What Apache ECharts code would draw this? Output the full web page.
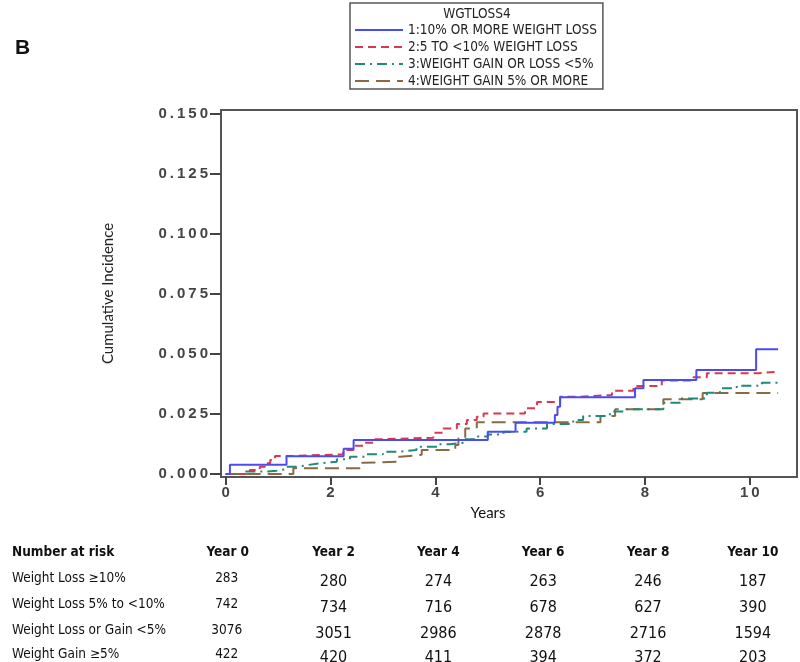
<!DOCTYPE html>
<html><head><meta charset="utf-8">
<script src="https://cdn.jsdelivr.net/npm/echarts@6/dist/echarts.min.js"></script>
<style>html,body{margin:0;padding:0;background:#fff}#c{width:800px;height:662px}</style>
</head><body><div id="c"></div>
<script>
// ---- data ----
const legendTitle = 'WGTLOSS4';
const seriesNames = ['1:10% OR MORE WEIGHT LOSS', '2:5 TO <10% WEIGHT LOSS', '3:WEIGHT GAIN OR LOSS <5%', '4:WEIGHT GAIN 5% OR MORE'];
const loss10 = [[0,0],[0.08,0.0039],[1.16,0.0074],[2.25,0.0105],[2.44,0.0142],[5.0,0.0176],[5.53,0.0214],[6.28,0.0246],[6.33,0.028],[6.38,0.032],[7.81,0.0357],[7.97,0.0392],[8.98,0.0433],[10.12,0.052],[10.54,0.052]];
const loss5to10 = [[0,0],[0.46,0.0017],[0.65,0.003],[0.75,0.0045],[0.85,0.0058],[0.94,0.0075],[1.23,0.0082],[2.24,0.010],[2.44,0.0118],[2.63,0.013],[2.82,0.0145],[2.94,0.0151],[3.96,0.0172],[4.15,0.019],[4.41,0.0208],[4.6,0.0225],[4.79,0.0239],[4.92,0.0252],[5.71,0.0274],[5.94,0.030],[6.38,0.0322],[6.76,0.0329],[7.37,0.0347],[7.78,0.0367],[8.32,0.039],[8.92,0.0403],[9.18,0.042],[10.16,0.0426],[10.54,0.0426]];
const stable5 = [[0,0],[0.34,0.001],[0.75,0.0014],[0.97,0.002],[1.16,0.003],[1.35,0.0037],[1.55,0.0045],[1.8,0.0051],[2.12,0.0061],[2.37,0.0072],[2.69,0.0082],[3.0,0.0093],[3.33,0.010],[3.64,0.0114],[4.03,0.0124],[4.28,0.013],[4.53,0.0145],[4.79,0.0156],[5.0,0.0165],[5.3,0.0176],[5.74,0.019],[6.13,0.0208],[6.63,0.0225],[6.82,0.0242],[7.33,0.026],[7.65,0.027],[8.35,0.0297],[8.67,0.0315],[9.18,0.0339],[9.43,0.0357],[9.75,0.0368],[10.23,0.038],[10.54,0.038]];
const gain5 = [[0,0],[1.29,0.0024],[2.56,0.0047],[2.63,0.0051],[3.26,0.0072],[3.33,0.008],[3.74,0.010],[4.38,0.0121],[4.44,0.0149],[4.57,0.019],[4.79,0.0216],[7.15,0.0242],[7.43,0.027],[8.35,0.0312],[9.1,0.0338],[10.54,0.0338]];
const yTicks = [0, 0.025, 0.05, 0.075, 0.1, 0.125, 0.15];
const xTicks = [0, 2, 4, 6, 8, 10];
const riskHeader = 'Number at risk';
const riskYears = [0, 2, 4, 6, 8, 10];
const riskYearLabels = ['Year 0', 'Year 2', 'Year 4', 'Year 6', 'Year 8', 'Year 10'];
const riskGroups = ['Weight Loss \u226510%', 'Weight Loss 5% to <10%', 'Weight Loss or Gain <5%', 'Weight Gain \u22655%'];
const riskLoss10 = [283, 280, 274, 263, 246, 187];
const riskLoss5to10 = [742, 734, 716, 678, 627, 390];
const riskStable = [3076, 3051, 2986, 2878, 2716, 1594];
const riskGain5 = [422, 420, 411, 394, 372, 203];

// ---- styles ----
const colors = ['#4b4bf0', '#d8384f', '#1f8a78', '#8a6a45'];
const dashes = ['solid', [8, 5], [10, 5, 2, 5], [14, 7]];
const narrow = "'Liberation Sans Narrow', 'DejaVu Sans Condensed', 'Arial Narrow', sans-serif";
const axisFont = "'Liberation Sans', Arial, sans-serif";
const spaced = s => s.split('').join('\u2009');

const chart = echarts.init(document.getElementById('c'), null, {renderer: 'canvas'});
const dataSets = [loss10, loss5to10, stable5, gain5];

chart.setOption({
  animation: false,
  backgroundColor: '#fff',
  grid: {left: 221, top: 110, right: 3, bottom: 185, show: true, borderColor: '#555', borderWidth: 2, backgroundColor: 'transparent'},
  legend: {
    orient: 'vertical', left: 350, top: 3,
    itemWidth: 48, itemHeight: 12, itemGap: 3,
    padding: [20, 6, 1, 4],
    borderColor: '#555', borderWidth: 1.5,
    itemStyle: {color: 'transparent', borderWidth: 0, opacity: 0},
    textStyle: {fontFamily: narrow, fontSize: 13.5, color: '#222'},
    data: seriesNames.map(n => ({name: n, itemStyle: {opacity: 0}}))
  },
  xAxis: {
    type: 'value', min: -0.09, max: 10.9,
    axisLine: {onZero: false, lineStyle: {color: '#555', width: 2}},
    axisTick: {show: true, customValues: xTicks, length: 8, lineStyle: {color: '#444', width: 2}},
    axisLabel: {customValues: xTicks, margin: 8, fontFamily: axisFont, fontWeight: 'bold', fontSize: 15, color: '#444', formatter: v => spaced(String(v))},
    splitLine: {show: false}
  },
  yAxis: {
    type: 'value', min: -0.00125, max: 0.1517,
    name: 'Cumulative Incidence', nameLocation: 'middle', nameGap: 105, nameRotate: 90,
    nameTextStyle: {fontFamily: "Lato, 'Open Sans', sans-serif", fontSize: 15, color: '#222'},
    axisLine: {onZero: false, lineStyle: {color: '#555', width: 2}},
    axisTick: {show: true, customValues: yTicks, length: 11, lineStyle: {color: '#444', width: 2}},
    axisLabel: {customValues: yTicks, margin: 13, fontFamily: axisFont, fontWeight: 'bold', fontSize: 15, color: '#444', formatter: v => spaced(v.toFixed(3))},
    splitLine: {show: false}
  },
  series: dataSets.map((d, i) => ({
    name: seriesNames[i], type: 'line', step: 'end', data: d,
    symbol: 'none', showSymbol: false,
    lineStyle: {color: colors[i], width: 2, type: dashes[i]},
    itemStyle: {color: colors[i]},
    z: 10 - i
  }))
});

// ---- texts and risk table ----
const graphics = [];
graphics.push({type: 'text', left: 15, top: 38, style: {text: 'B', font: "bold 21px 'Liberation Sans', Arial, sans-serif", fill: '#111'}});
graphics.push({type: 'text', x: 477, y: 14, style: {text: legendTitle, font: "13.5px " + narrow, fill: '#222', align: 'center', verticalAlign: 'middle'}});
graphics.push({type: 'text', x: 488, y: 513, style: {text: 'Years', font: "15px Lato, 'Open Sans', sans-serif", fill: '#111', align: 'center', verticalAlign: 'middle'}});

const rowY = [578, 604, 630, 654];
const headerY = 552;
graphics.push({type: 'text', x: 12, y: headerY, style: {text: riskHeader, font: "bold 13.5px " + narrow, fill: '#111', verticalAlign: 'middle'}});
riskYears.forEach((yr, j) => {
  const px = chart.convertToPixel({xAxisIndex: 0}, yr);
  graphics.push({type: 'text', x: px + (j === 0 ? 2 : 3), y: headerY, style: {text: riskYearLabels[j], font: "bold 13.5px " + narrow, fill: '#111', align: 'center', verticalAlign: 'middle'}});
});
const riskRows = [riskLoss10, riskLoss5to10, riskStable, riskGain5];
riskRows.forEach((row, i) => {
  graphics.push({type: 'text', x: 12, y: rowY[i], style: {text: riskGroups[i], font: "13.5px " + narrow, fill: '#111', verticalAlign: 'middle'}});
  row.forEach((n, j) => {
    const px = chart.convertToPixel({xAxisIndex: 0}, riskYears[j]);
    graphics.push({type: 'text', x: px + (j === 0 ? 1 : 3), y: rowY[i] + (j === 0 ? 0 : 4),
      style: {text: String(n), font: (j === 0 ? "13.5px " + narrow : "16px " + narrow), fill: '#111', align: 'center', verticalAlign: 'middle'}});
  });
});
chart.setOption({graphic: graphics});
</script></body></html>
